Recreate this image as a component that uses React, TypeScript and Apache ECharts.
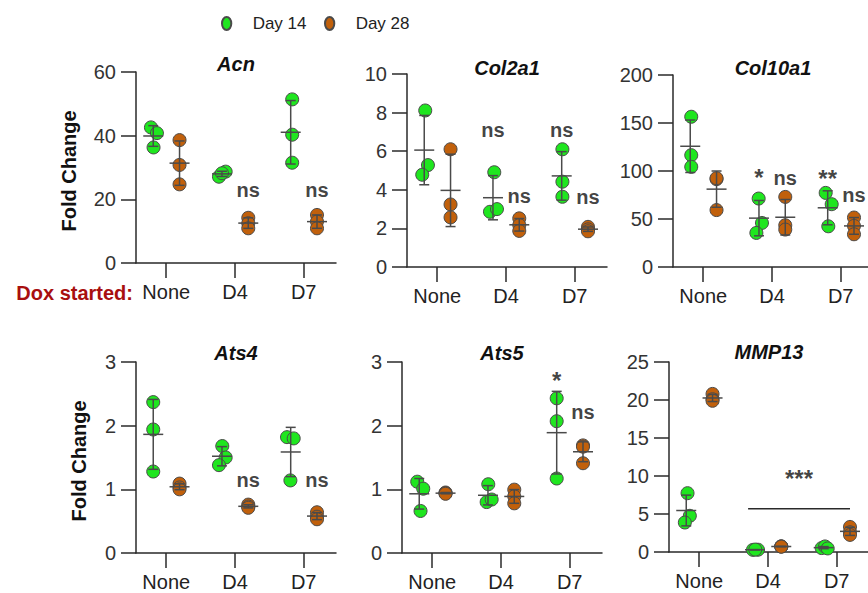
import React, { useEffect, useRef } from 'react';
import * as echarts from 'echarts';

// ---------- data ----------
const CATEGORIES = ['None', 'D4', 'D7'];
const SERIES_NAMES = ['Day 14', 'Day 28'];

const ACN_DAY14 = [[42.6, 40.8, 36.3], [27.1, 28.7, 28.2], [51.4, 40.3, 31.5]];
const ACN_DAY28 = [[38.6, 30.8, 24.7], [14.2, 12.5, 10.9], [15.1, 13.0, 10.9]];
const COL2A1_DAY14 = [[8.11, 5.28, 4.78], [4.91, 2.86, 3.0], [6.1, 4.42, 3.64]];
const COL2A1_DAY28 = [[6.1, 3.24, 2.57], [2.52, 2.17, 1.87], [2.08, 1.95, 1.85]];
const COL10A1_DAY14 = [[156.5, 116.5, 104.3], [71.3, 45.9, 35.5], [77.2, 65.4, 42.4]];
const COL10A1_DAY28 = [[91.5, 92.5, 59.3], [73, 43.5, 39], [51.5, 42.8, 34.1]];
const ATS4_DAY14 = [[2.37, 1.94, 1.28], [1.68, 1.5, 1.38], [1.82, 1.8, 1.14]];
const ATS4_DAY28 = [[1.09, 1.03, 1.0], [0.76, 0.73, 0.71], [0.64, 0.57, 0.53]];
const ATS5_DAY14 = [[1.12, 1.01, 0.66], [1.08, 0.8, 0.84], [2.43, 2.07, 1.17]];
const ATS5_DAY28 = [[0.95, 0.94, 0.93], [0.995, 0.89, 0.78], [1.69, 1.67, 1.41]];
const MMP13_DAY14 = [[7.74, 4.76, 3.88], [0.28, 0.3, 0.32], [0.52, 0.73, 0.47]];
const MMP13_DAY28 = [[20.8, 20.1, 19.9], [0.75, 0.72, 0.7], [3.3, 2.6, 2.25]];

// y axis ticks: [min, max, interval]
const ACN_Y = [0, 60, 20];
const COL2A1_Y = [0, 10, 2];
const COL10A1_Y = [0, 200, 50];
const ATS4_Y = [0, 3, 1];
const ATS5_Y = [0, 3, 1];
const MMP13_Y = [0, 25, 5];

// significance annotations: [category, group (0 = Day 14, 1 = Day 28), y, text]
const ACN_NOTES: [number, number, number, string][] = [[1, 1, 22.9, 'ns'], [2, 1, 22.9, 'ns']];
const COL2A1_NOTES: [number, number, number, string][] = [[1, 0, 7.11, 'ns'], [1, 1, 3.7, 'ns'], [2, 0, 7.11, 'ns'], [2, 1, 3.65, 'ns']];
const COL10A1_NOTES: [number, number, number, string][] = [[1, 0, 93.6, '*'], [1, 1, 92.3, 'ns'], [2, 0, 92.6, '**'], [2, 1, 74.9, 'ns']];
const ATS4_NOTES: [number, number, number, string][] = [[1, 1, 1.15, 'ns'], [2, 1, 1.15, 'ns']];
const ATS5_NOTES: [number, number, number, string][] = [[2, 0, 2.71, '*'], [2, 1, 2.21, 'ns']];
const MMP13_NOTES: [number, number, number, string][] = [];
// bracket: from (category, group) to (category, group), line y, text y, text
const MMP13_BRACKET = { from: [1, 0], to: [2, 1], y: 5.68, textY: 9.67, text: '***' };

// ---------- layout / style ----------
const GREEN = '#1fe61f';
const BROWN = '#c1600b';
const POINT_BORDER = '#4a4a4a';
const ERR_COLOR = '#4a4a4a';
const AXIS_COLOR = '#2a2a2a';
const TEXT_COLOR = '#222';
const FONT = "'Liberation Sans', Arial, Helvetica, sans-serif";

const X_MIN = -0.44;
const X_MAX = 2.47;
const GRID_W = 200;
const PX = GRID_W / (X_MAX - X_MIN);
const SHIFTS = [-13 / PX, 13.3 / PX];

// horizontal jitter (px) of Day 14 points
const ACN_JIT = [[-2.3, 3.7, 0.3], [-3, 3.7, 0], [1.5, 1.5, 1.5]];
const COL2A1_JIT = [[1, 3.7, -2], [1.3, -3, 4], [0.7, 0.7, 0.7]];
const COL10A1_JIT = [[1, 1, 1], [-0.3, 3, -2.6], [-2, 4, 0.6]];
const ATS4_JIT = [[0, 0, 0], [0.3, 3.7, -3], [-3.7, 3, -0.3]];
const ATS5_JIT = [[-2, 4, 1.3], [0.3, -1.3, 3.7], [0, 0, 0]];
const MMP13_JIT = [[1.3, 3.6, -1.4], [-2, 3, 0.3], [-2, 1.3, 4]];

const PANELS = [
  { title: 'Acn', d14: ACN_DAY14, d28: ACN_DAY28, y: ACN_Y, jit: ACN_JIT, notes: ACN_NOTES, left: 136, top: 72, height: 191, titleTop: 53.5, yName: true, nameGap: 57 },
  { title: 'Col2a1', d14: COL2A1_DAY14, d28: COL2A1_DAY28, y: COL2A1_Y, jit: COL2A1_JIT, notes: COL2A1_NOTES, left: 407, top: 74, height: 193, titleTop: 57.5, yName: false, nameGap: 0 },
  { title: 'Col10a1', d14: COL10A1_DAY14, d28: COL10A1_DAY28, y: COL10A1_Y, jit: COL10A1_JIT, notes: COL10A1_NOTES, left: 673, top: 75, height: 192, titleTop: 57.5, yName: false, nameGap: 0 },
  { title: 'Ats4', d14: ATS4_DAY14, d28: ATS4_DAY28, y: ATS4_Y, jit: ATS4_JIT, notes: ATS4_NOTES, left: 136, top: 362, height: 191, titleTop: 343, yName: true, nameGap: 47 },
  { title: 'Ats5', d14: ATS5_DAY14, d28: ATS5_DAY28, y: ATS5_Y, jit: ATS5_JIT, notes: ATS5_NOTES, left: 402, top: 362, height: 191, titleTop: 343, yName: false, nameGap: 0 },
  { title: 'MMP13', d14: MMP13_DAY14, d28: MMP13_DAY28, y: MMP13_Y, jit: MMP13_JIT, notes: MMP13_NOTES, left: 669, top: 362, height: 190, titleTop: 342, yName: false, nameGap: 0, bracket: MMP13_BRACKET },
];

const mean = (a: number[]) => a.reduce((s, v) => s + v, 0) / a.length;
const sd = (a: number[]) => {
  const m = mean(a);
  return Math.sqrt(a.reduce((s, v) => s + (v - m) * (v - m), 0) / (a.length - 1));
};

const renderMeanSd = (_params: any, api: any) => {
  const x = api.value(0);
  const m = api.value(1);
  const s = api.value(2);
  const c = api.coord([x, m]);
  const hi = api.coord([x, m + s]);
  const lo = api.coord([x, m - s]);
  const st = { stroke: ERR_COLOR, lineWidth: 1.5 };
  return {
    type: 'group',
    children: [
      { type: 'line', shape: { x1: c[0], y1: hi[1], x2: c[0], y2: lo[1] }, style: st },
      { type: 'line', shape: { x1: c[0] - 5, y1: hi[1], x2: c[0] + 5, y2: hi[1] }, style: st },
      { type: 'line', shape: { x1: c[0] - 5, y1: lo[1], x2: c[0] + 5, y2: lo[1] }, style: st },
      { type: 'line', shape: { x1: c[0] - 10, y1: c[1], x2: c[0] + 10, y2: c[1] }, style: st },
    ],
  };
};

const LEGEND_ICON = 'path://M5 0C7.76 0 10 3.13 10 7C10 10.87 7.76 14 5 14C2.24 14 0 10.87 0 7C0 3.13 2.24 0 5 0Z';

function buildOption() {
  const grid: any[] = [];
  const xAxis: any[] = [];
  const yAxis: any[] = [];
  const title: any[] = [];
  const series: any[] = [];
  const axisLineStyle = { color: AXIS_COLOR, width: 1.5 };

  PANELS.forEach((p: any, i: number) => {
    grid.push({ left: p.left, top: p.top, width: GRID_W, height: p.height, containLabel: false, outerBoundsMode: 'none' });
    xAxis.push({
      gridIndex: i,
      type: 'value',
      min: X_MIN,
      max: X_MAX,
      axisLine: { show: true, onZero: false, lineStyle: axisLineStyle },
      axisTick: { show: true, length: 15, customValues: [0, 1, 2], lineStyle: axisLineStyle },
      axisLabel: {
        customValues: [0, 1, 2],
        formatter: (v: number) => CATEGORIES[Math.round(v)] ?? '',
        margin: 19,
        fontSize: 20,
        color: TEXT_COLOR,
        fontFamily: FONT,
      },
      splitLine: { show: false },
    });
    yAxis.push({
      gridIndex: i,
      type: 'value',
      min: p.y[0],
      max: p.y[1],
      interval: p.y[2],
      axisLine: { show: true, onZero: false, lineStyle: axisLineStyle },
      axisTick: { show: true, length: 15, lineStyle: axisLineStyle },
      axisLabel: { margin: 20, fontSize: 20, color: '#333', fontFamily: FONT },
      splitLine: { show: false },
      name: p.yName ? 'Fold Change' : '',
      nameLocation: 'middle',
      nameGap: p.nameGap,
      nameMoveOverlap: false,
      nameTextStyle: { fontSize: 20, fontWeight: 'bold', color: '#111', fontFamily: FONT, padding: [0, 7, 0, 0] },
    });
    title.push({
      text: p.title,
      left: p.left + GRID_W / 2,
      top: p.titleTop,
      textAlign: 'center',
      padding: 0,
      textStyle: { fontSize: 20, fontWeight: 'bold', fontStyle: 'italic', color: '#111', fontFamily: FONT },
    });

    const groups = [p.d14, p.d28];
    groups.forEach((g: number[][], gi: number) => {
      const data: number[][] = [];
      g.forEach((vals, c) => {
        vals.forEach((v, k) => {
          const jit = gi === 0 ? p.jit[c][k] / PX : 0;
          data.push([c + SHIFTS[gi] + jit, v]);
        });
      });
      series.push({
        type: 'scatter',
        name: SERIES_NAMES[gi],
        xAxisIndex: i,
        yAxisIndex: i,
        data,
        symbol: 'circle',
        symbolSize: 13,
        itemStyle: { color: gi === 0 ? GREEN : BROWN, borderColor: POINT_BORDER, borderWidth: 1, opacity: 1 },
        z: 2,
        silent: true,
      });
    });

    const stats: number[][] = [];
    groups.forEach((g: number[][], gi: number) => {
      g.forEach((vals, c) => stats.push([c + SHIFTS[gi], mean(vals), sd(vals)]));
    });
    series.push({
      type: 'custom',
      xAxisIndex: i,
      yAxisIndex: i,
      data: stats,
      encode: { x: 0, y: 1 },
      renderItem: renderMeanSd,
      z: 3,
      silent: true,
    });

    const notes = p.notes.map((n: any) => ({
      value: [n[0] + SHIFTS[n[1]], n[2]],
      label: { formatter: n[3], fontSize: n[3].includes('*') ? 24 : 20 },
    }));
    if (p.bracket) {
      const b = p.bracket;
      const x1 = b.from[0] + SHIFTS[b.from[1]] - 0.1;
      const x2 = b.to[0] + SHIFTS[b.to[1]];
      notes.push({ value: [(x1 + x2) / 2, b.textY], label: { formatter: b.text, fontSize: 24 } });
      series.push({
        type: 'line',
        xAxisIndex: i,
        yAxisIndex: i,
        data: [[x1, b.y], [x2, b.y]],
        symbol: 'none',
        lineStyle: { color: AXIS_COLOR, width: 1.5 },
        silent: true,
        z: 1,
      });
    }
    series.push({
      type: 'scatter',
      xAxisIndex: i,
      yAxisIndex: i,
      data: notes,
      symbolSize: 1,
      itemStyle: { color: 'rgba(0,0,0,0)' },
      label: { show: true, position: 'inside', fontWeight: 'bold', color: '#111', fontFamily: FONT },
      silent: true,
      z: 4,
    });
  });

  return {
    animation: false,
    backgroundColor: '#fff',
    grid,
    xAxis,
    yAxis,
    title,
    legend: SERIES_NAMES.map((name, k) => ({
      data: [name],
      left: k === 0 ? 221 : 324,
      top: 15,
      padding: 0,
      itemWidth: 42,
      itemHeight: 13,
      icon: LEGEND_ICON,
      symbolKeepAspect: true,
      selectedMode: false,
      textStyle: { fontSize: 17, color: TEXT_COLOR, fontFamily: FONT },
    })),
    graphic: [
      {
        type: 'text',
        x: 133,
        y: 293,
        style: {
          text: 'Dox started:',
          fill: '#a80f0f',
          fontSize: 20,
          fontWeight: 'bold',
          fontFamily: FONT,
          align: 'right',
          verticalAlign: 'middle',
        },
      },
    ],
    series,
  };
}

export default function App() {
  const ref = useRef<HTMLDivElement>(null);
  useEffect(() => {
    if (!ref.current) return;
    const chart = echarts.init(ref.current, undefined, { renderer: 'svg' });
    chart.setOption(buildOption() as any);
    return () => chart.dispose();
  }, []);
  return <div ref={ref} style={{ position: 'fixed', left: 0, top: 0, width: 868, height: 593 }} />;
}
